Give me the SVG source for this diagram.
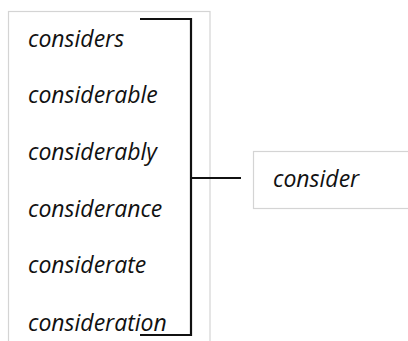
<svg xmlns="http://www.w3.org/2000/svg" width="408" height="341" viewBox="0 0 408 341">
  <style>
    .box { fill: #ffffff; stroke: #d4d4d4; stroke-width: 1.2; }
    .word { font-family: "Open Sans", "Noto Sans", sans-serif; font-style: italic; font-size: 23px; fill: #111111; }
    .bracket { fill: none; stroke: #111111; stroke-width: 2.2; }
  </style>
  <rect width="408" height="341" fill="#ffffff"/>

  <!-- derived forms -->
  <g id="derived-forms">
    <rect class="box" x="8.5" y="11.5" width="201.5" height="340"/>
    <text class="word" x="28" y="47">considers</text>
    <text class="word" x="28" y="103">considerable</text>
    <text class="word" x="28" y="160">considerably</text>
    <text class="word" x="28" y="217">considerance</text>
    <text class="word" x="28" y="273">considerate</text>
    <text class="word" x="28" y="331">consideration</text>
  </g>

  <!-- root word -->
  <g id="root-word">
    <rect class="box" x="253.5" y="151.5" width="170" height="57"/>
    <text class="word" x="273" y="187">consider</text>
  </g>

  <!-- bracket joining the forms to the root -->
  <g id="connectors">
    <path class="bracket" d="M140 19 H191 V335 H140"/>
    <path class="bracket" d="M191 178 H241"/>
  </g>
</svg>
